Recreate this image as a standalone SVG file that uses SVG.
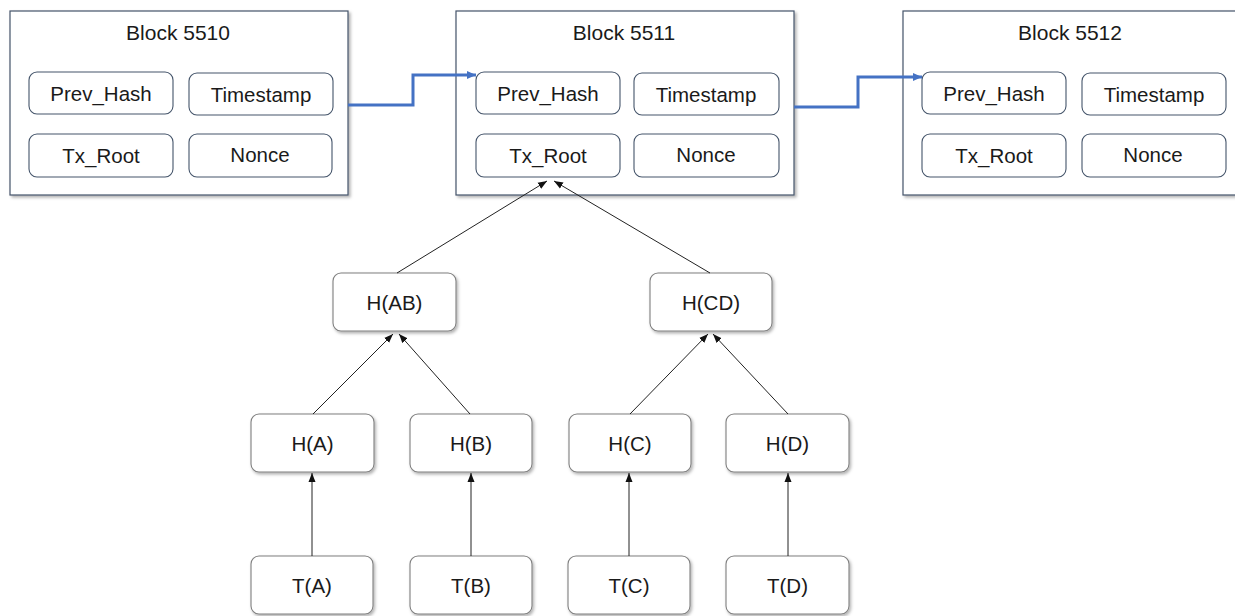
<svg xmlns="http://www.w3.org/2000/svg" width="1235" height="616" viewBox="0 0 1235 616">
<style>
.blk{fill:#fff;stroke:#44546a;stroke-width:1.2;filter:url(#sh)}
.fld{fill:#fff;stroke:#44546a;stroke-width:1.1}
.nd{fill:#fff;stroke:#7f7f7f;stroke-width:1.1;filter:url(#sh2)}
text{font-family:"Liberation Sans",Arial,sans-serif;font-size:20.5px;fill:#1a1a1a;text-anchor:middle}
.ttl{font-size:21px}
.blue{fill:none;stroke:#4472c4;stroke-width:3}
.blk-ln{fill:none;stroke:#222;stroke-width:1}
</style>
<defs>
<filter id="sh" x="-5%" y="-5%" width="115%" height="115%">
<feDropShadow dx="2" dy="2" stdDeviation="1.5" flood-color="#000" flood-opacity="0.3"/>
</filter>
<filter id="sh2" x="-10%" y="-10%" width="125%" height="130%">
<feDropShadow dx="1.5" dy="2" stdDeviation="1.5" flood-color="#000" flood-opacity="0.3"/>
</filter>
<marker id="ab" markerWidth="10" markerHeight="8" refX="9" refY="4" orient="auto" markerUnits="userSpaceOnUse">
<path d="M0,0 L9,4 L0,8 Z" fill="#4472c4"/>
</marker>
<marker id="ak" markerWidth="10" markerHeight="8" refX="9" refY="4" orient="auto" markerUnits="userSpaceOnUse">
<path d="M0,0.5 L9,4 L0,7.5 Z" fill="#111"/>
</marker>
</defs>

<g id="block5510">
<rect class="blk" x="10" y="11" width="338" height="184"/>
<text class="ttl" x="178" y="40">Block 5510</text>
<rect class="fld" x="29" y="72" width="144" height="42" rx="8"/>
<text x="101" y="101">Prev_Hash</text>
<rect class="fld" x="189" y="73" width="144" height="42" rx="8"/>
<text x="261" y="102">Timestamp</text>
<rect class="fld" x="29" y="134" width="144" height="43" rx="8"/>
<text x="101" y="163">Tx_Root</text>
<rect class="fld" x="189" y="134" width="143" height="43" rx="8"/>
<text x="260" y="162">Nonce</text>
</g>

<g id="block5511">
<rect class="blk" x="456" y="11" width="338" height="184"/>
<text class="ttl" x="624" y="40">Block 5511</text>
<rect class="fld" x="476" y="72" width="144" height="42" rx="8"/>
<text x="548" y="101">Prev_Hash</text>
<rect class="fld" x="634" y="73" width="145" height="42" rx="8"/>
<text x="706" y="102">Timestamp</text>
<rect class="fld" x="476" y="134" width="144" height="43" rx="8"/>
<text x="548" y="163">Tx_Root</text>
<rect class="fld" x="634" y="134" width="145" height="43" rx="8"/>
<text x="706" y="162">Nonce</text>
</g>

<g id="block5512">
<rect class="blk" x="903" y="11" width="338" height="184"/>
<text class="ttl" x="1070" y="40">Block 5512</text>
<rect class="fld" x="922" y="72" width="144" height="42" rx="8"/>
<text x="994" y="101">Prev_Hash</text>
<rect class="fld" x="1082" y="73" width="144" height="42" rx="8"/>
<text x="1154" y="102">Timestamp</text>
<rect class="fld" x="922" y="134" width="144" height="43" rx="8"/>
<text x="994" y="163">Tx_Root</text>
<rect class="fld" x="1082" y="134" width="144" height="43" rx="8"/>
<text x="1153" y="162">Nonce</text>
</g>

<g id="hab"><rect class="nd" x="333" y="273" width="123" height="58" rx="8"/><text x="394.5" y="310">H(AB)</text></g>
<g id="hcd"><rect class="nd" x="650" y="273" width="122" height="58" rx="8"/><text x="711" y="310">H(CD)</text></g>
<g id="ha"><rect class="nd" x="251" y="414" width="123" height="58" rx="8"/><text x="312.5" y="451">H(A)</text></g>
<g id="hb"><rect class="nd" x="410" y="414" width="122" height="58" rx="8"/><text x="471" y="451">H(B)</text></g>
<g id="hc"><rect class="nd" x="569" y="414" width="122" height="58" rx="8"/><text x="630" y="451">H(C)</text></g>
<g id="hd"><rect class="nd" x="726" y="414" width="123" height="58" rx="8"/><text x="787.5" y="451">H(D)</text></g>
<g id="ta"><rect class="nd" x="251" y="556" width="122" height="58" rx="8"/><text x="312" y="593">T(A)</text></g>
<g id="tb"><rect class="nd" x="410" y="556" width="122" height="58" rx="8"/><text x="471" y="593">T(B)</text></g>
<g id="tc"><rect class="nd" x="568" y="556" width="122" height="58" rx="8"/><text x="629" y="593">T(C)</text></g>
<g id="td"><rect class="nd" x="726" y="556" width="123" height="58" rx="8"/><text x="787.5" y="593">T(D)</text></g>

<g id="connectors">
<path class="blue" d="M348,105 H413 V75 H476" marker-end="url(#ab)"/>
<path class="blue" d="M794,107 H858 V77 H922" marker-end="url(#ab)"/>
<line class="blk-ln" x1="397" y1="273" x2="547" y2="181" marker-end="url(#ak)"/>
<line class="blk-ln" x1="710" y1="273" x2="554" y2="181" marker-end="url(#ak)"/>
<line class="blk-ln" x1="313" y1="414" x2="393" y2="334" marker-end="url(#ak)"/>
<line class="blk-ln" x1="470" y1="414" x2="399" y2="334" marker-end="url(#ak)"/>
<line class="blk-ln" x1="630" y1="414" x2="708" y2="334" marker-end="url(#ak)"/>
<line class="blk-ln" x1="788" y1="414" x2="713" y2="334" marker-end="url(#ak)"/>
<line class="blk-ln" x1="312" y1="556" x2="312" y2="473" stroke-width="2" marker-end="url(#ak)"/>
<line class="blk-ln" x1="471" y1="556" x2="471" y2="473" marker-end="url(#ak)"/>
<line class="blk-ln" x1="629" y1="556" x2="629" y2="473" marker-end="url(#ak)"/>
<line class="blk-ln" x1="788" y1="556" x2="788" y2="473" marker-end="url(#ak)"/>
</g>
</svg>
